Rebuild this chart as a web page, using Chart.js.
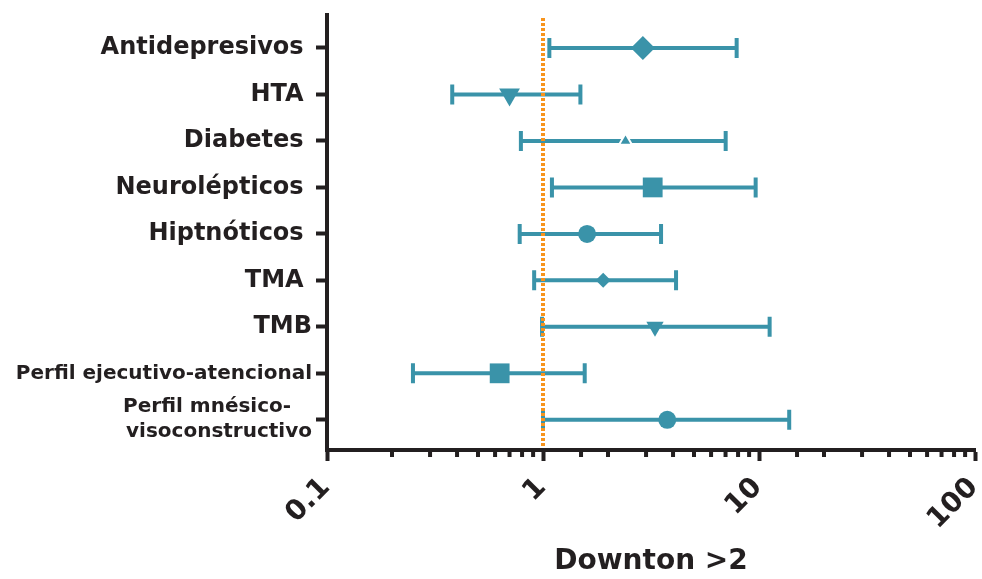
<!DOCTYPE html>
<html>
<head>
<meta charset="utf-8">
<script src="https://cdn.jsdelivr.net/npm/chart.js@4/dist/chart.umd.min.js"></script>
<style>
  html, body { margin: 0; padding: 0; background: #fff; overflow: hidden; }
  #wrap { position: relative; width: 982px; height: 579px; }
  canvas { display: block; }
</style>
</head>
<body>
<div id="wrap"><canvas id="forest"></canvas></div>
<script>
var categories = ['Antidepresivos ', 'HTA ', 'Diabetes ', 'Neurolépticos ', 'Hiptnóticos ',
    'TMA ', 'TMB', 'Perfil ejecutivo-atencional', ['Perfil mnésico-   ', 'visoconstructivo']];
var estimate = [2.90, 0.70, 2.41, 3.22, 1.60, 1.90, 3.30, 0.63, 3.76];
var lower    = [1.07, 0.38, 0.79, 1.10, 0.78, 0.91, 0.99, 0.25, 1.00];
var upper    = [7.88, 1.49, 7.01, 9.65, 3.52, 4.13, 11.2, 1.56, 13.8];
var xTickLabels = [0.1, 1, 10, 100];
var refValue = 1;

var teal = '#3a93a9';
var ink = '#231f20';
var orange = '#f7941d';
var face = 'DejaVu Sans';

var symbols  = ['rectRot', 'triangle', 'triangle', 'rect', 'circle', 'rectRot', 'triangle', 'rect', 'circle'];
var symSize  = [12, 12, 7.5, 14, 9, 7.5, 10, 14, 9];
var symTurn  = [0, 180, 0, 0, 0, 0, 180, 0, 0];
var symEdge  = [0, 0, 2, 0, 0, 0, 0, 0, 0];

// error bars, minor ticks, rotated x labels and the reference line, all placed with the chart's scales
var forestPlugin = {
    id: 'forest',
    beforeDatasetsDraw: function(chart) {
        var ctx = chart.ctx, xs = chart.scales.x, ys = chart.scales.y;
        ctx.save();
        ctx.strokeStyle = teal;
        ctx.lineWidth = 4;
        for (var i = 0; i < estimate.length; i++) {
            var y = ys.getPixelForValue(i);
            var x0 = xs.getPixelForValue(lower[i]);
            var x1 = xs.getPixelForValue(upper[i]);
            ctx.beginPath();
            ctx.moveTo(x0, y); ctx.lineTo(x1, y);
            ctx.moveTo(x0, y - 10); ctx.lineTo(x0, y + 10);
            ctx.moveTo(x1, y - 10); ctx.lineTo(x1, y + 10);
            ctx.stroke();
        }
        ctx.strokeStyle = ink;
        xs.ticks.forEach(function(t) {
            if (xTickLabels.indexOf(t.value) >= 0) return;
            var px = xs.getPixelForValue(t.value);
            ctx.beginPath();
            ctx.moveTo(px, xs.top);
            ctx.lineTo(px, xs.top + 7);
            ctx.stroke();
        });
        ctx.fillStyle = ink;
        ctx.font = 'bold 28px "' + face + '"';
        ctx.textAlign = 'right';
        ctx.textBaseline = 'middle';
        xTickLabels.forEach(function(v) {
            var px = xs.getPixelForValue(v);
            ctx.save();
            ctx.translate(px - 1, xs.top + 33);
            ctx.rotate(-Math.PI / 4);
            ctx.fillText(String(v), 0, 0);
            ctx.restore();
        });
        ctx.restore();
    },
    afterDatasetsDraw: function(chart) {
        var ctx = chart.ctx, xs = chart.scales.x, area = chart.chartArea;
        var px = xs.getPixelForValue(refValue);
        ctx.save();
        ctx.strokeStyle = orange;
        ctx.lineWidth = 4;
        ctx.setLineDash([3, 2]);
        ctx.beginPath();
        ctx.moveTo(px, area.top + 3);
        ctx.lineTo(px, area.bottom - 2);
        ctx.stroke();
        ctx.restore();
    }
};

var points = estimate.map(function(v, i) { return { x: v, y: i }; });

var ctx = document.getElementById('forest').getContext('2d');
var chart = new Chart(ctx, {
    type: 'scatter',
    data: {
        datasets: [{
            data: points,
            backgroundColor: teal,
            borderColor: '#ffffff',
            borderWidth: symEdge,
            pointStyle: symbols,
            pointRadius: symSize,
            pointHoverRadius: symSize,
            rotation: symTurn
        }]
    },
    options: {
        responsive: true,
        maintainAspectRatio: false,
        animation: false,
        layout: { autoPadding: false, padding: { left: 0, right: 7, top: 15, bottom: 0 } },
        plugins: { legend: { display: false }, tooltip: { enabled: false } },
        scales: {
            x: {
                type: 'logarithmic',
                min: 0.1,
                max: 100,
                afterFit: function(scale) {
                    scale.height = 129;
                    scale.paddingLeft = 0;
                    scale.paddingRight = 0;
                },
                border: { color: ink, width: 4 },
                grid: {
                    drawOnChartArea: false,
                    tickLength: 11,
                    tickWidth: 4,
                    tickColor: function(c) {
                        return (c.tick && xTickLabels.indexOf(c.tick.value) >= 0) ? ink : 'rgba(0,0,0,0)';
                    }
                },
                ticks: {
                    display: false,
                    autoSkip: false
                },
                title: {
                    display: true,
                    text: 'Downton >2',
                    color: ink,
                    font: { family: face, size: 28, weight: 'bold' },
                    padding: { top: 0, bottom: 0 }
                }
            },
            y: {
                type: 'linear',
                reverse: true,
                min: -0.71,
                max: 8.65,
                afterFit: function(scale) {
                    scale.width = 327;
                    scale.paddingTop = 0;
                    scale.paddingBottom = 0;
                },
                afterBuildTicks: function(scale) {
                    scale.ticks = categories.map(function(c, i) { return { value: i }; });
                },
                border: { color: ink, width: 4 },
                grid: {
                    drawOnChartArea: false,
                    tickLength: 11,
                    tickWidth: 4,
                    color: ink
                },
                ticks: {
                    autoSkip: false,
                    padding: 4,
                    color: ink,
                    font: function(c) {
                        var big = c.index < 7;
                        return { family: face, size: big ? 24 : 20, weight: 'bold', lineHeight: 1.25 };
                    },
                    callback: function(v) { return categories[v]; }
                }
            }
        }
    },
    plugins: [forestPlugin]
});
</script>
</body>
</html>
